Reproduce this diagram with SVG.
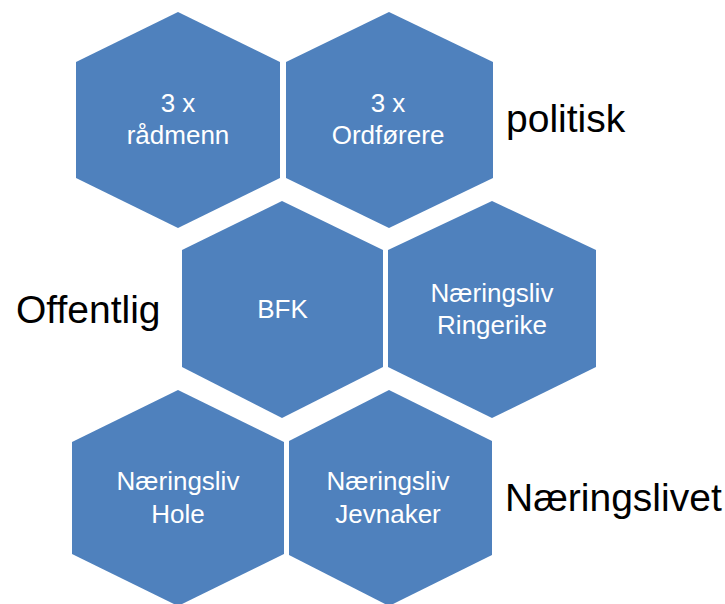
<svg xmlns="http://www.w3.org/2000/svg" width="725" height="604" viewBox="0 0 725 604">
  <style>
    .hex { fill: #4F81BD; stroke: none; }
    .in { font-family: "Liberation Sans", Arial, sans-serif; font-size: 26px; fill: #FFFFFF; text-anchor: middle; }
    .out { font-family: "Liberation Sans", Arial, sans-serif; font-size: 39px; fill: #000000; }
  </style>
  <rect x="0" y="0" width="725" height="604" fill="#FFFFFF"/>
  <g id="connectors"></g>
  <g id="node-radmenn">
    <polygon class="hex" points="178,12 280,62 280,178 178,228 76,178 76,62"/>
    <text class="in" x="178" y="112">3 x</text>
    <text class="in" x="178" y="144">rådmenn</text>
  </g>
  <g id="node-ordforere">
    <polygon class="hex" points="389,12 493,62 493,178 389,228 286,178 286,62"/>
    <text class="in" x="388" y="112">3 x</text>
    <text class="in" x="388" y="144">Ordførere</text>
  </g>
  <g id="node-bfk">
    <polygon class="hex" points="282,201 383,250 383,367 282,418 182,367 182,250"/>
    <text class="in" x="282.5" y="318">BFK</text>
  </g>
  <g id="node-ringerike">
    <polygon class="hex" points="492,201 596,250 596,367 492,418 388,367 388,250"/>
    <text class="in" x="492" y="302">Næringsliv</text>
    <text class="in" x="492" y="334">Ringerike</text>
  </g>
  <g id="node-hole">
    <polygon class="hex" points="178,390 284,442 284,554 178,606 72,554 72,442"/>
    <text class="in" x="178" y="490">Næringsliv</text>
    <text class="in" x="178" y="523">Hole</text>
  </g>
  <g id="node-jevnaker">
    <polygon class="hex" points="389,390 492,441 492,555 389,606 289,555 289,441"/>
    <text class="in" x="388" y="490">Næringsliv</text>
    <text class="in" x="388" y="523">Jevnaker</text>
  </g>
  <g id="labels">
    <text class="out" x="506" y="132">politisk</text>
    <text class="out" x="16" y="323">Offentlig</text>
    <text class="out" x="505" y="511">Næringslivet</text>
  </g>
</svg>
